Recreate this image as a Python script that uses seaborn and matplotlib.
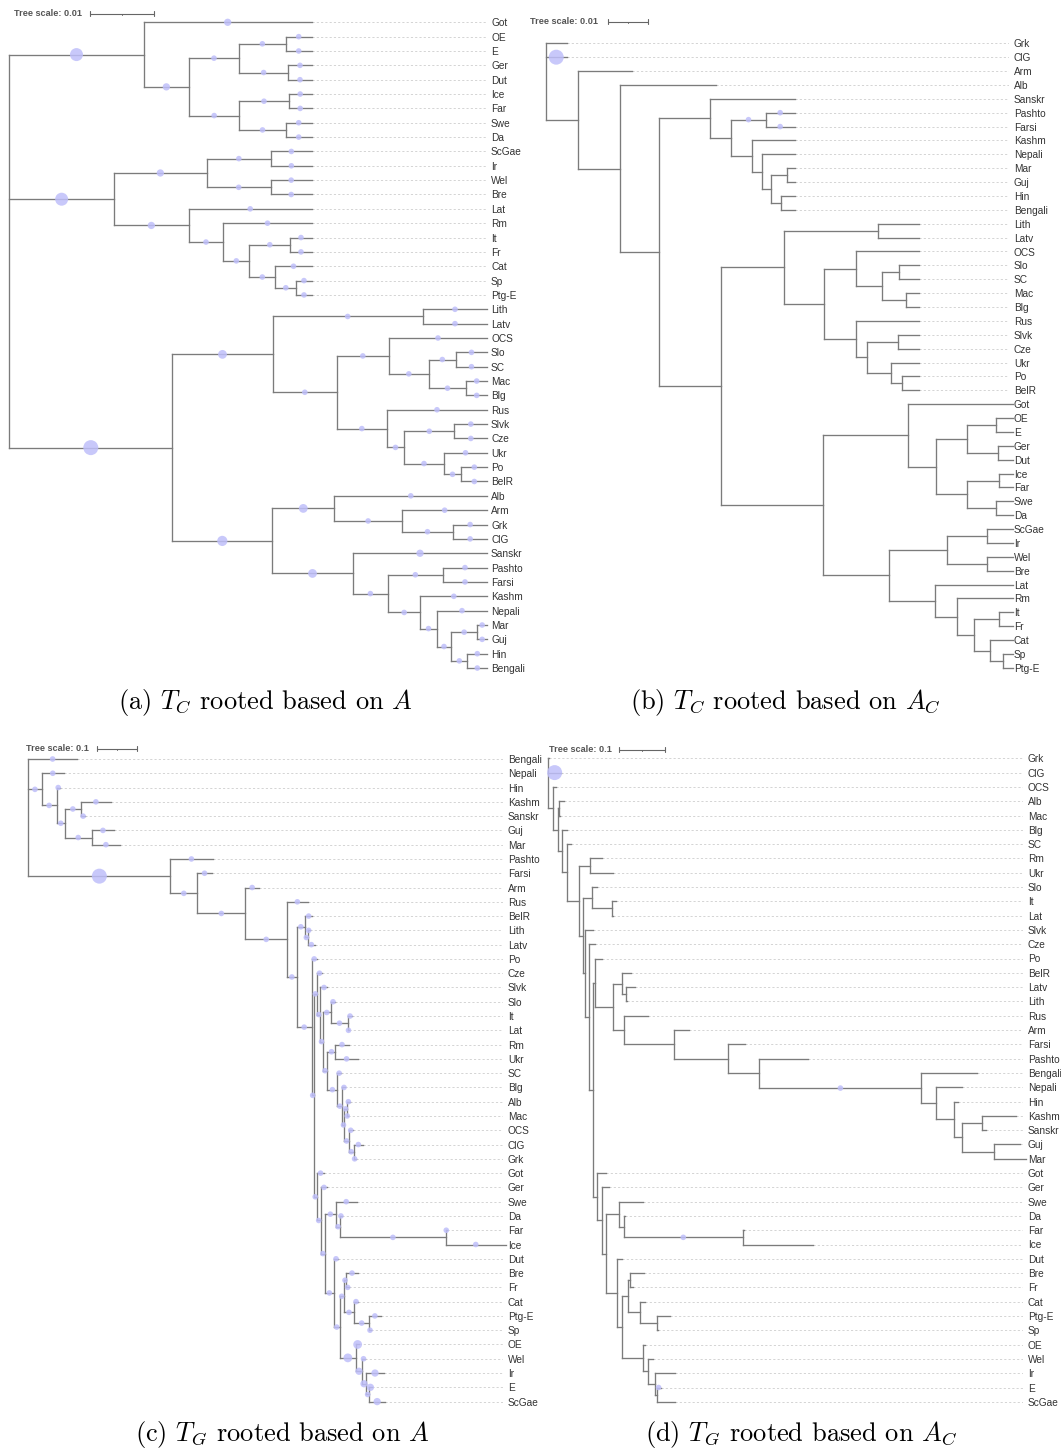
import matplotlib
matplotlib.use("Agg")
import matplotlib.pyplot as plt
from matplotlib.collections import LineCollection
import pandas as pd
import seaborn as sns

# ---------------------------------------------------------------------------
# Trees in a Newick-like notation.  The number after ':' is the distance of
# the node from the root (cumulative), and an optional [k] gives the weight
# class of the marker drawn on the branch leading to that node.
# ---------------------------------------------------------------------------
TREE_TC_A = """(
 (Got:0.04703[2],
  (((OE:0.04703,E:0.04703):0.04299,(Ger:0.04703,Dut:0.04703):0.04339):0.03572,
   ((Ice:0.04703,Far:0.04703):0.04345,(Swe:0.04703,Da:0.04703):0.04299):0.03577):0.02795[2]
 ):0.02090[5],
 (((ScGae:0.04703,Ir:0.04703):0.04070,(Wel:0.04703,Bre:0.04703):0.04065):0.03070[2],
  (Lat:0.04703,(Rm:0.04703,((It:0.04703,Fr:0.04703):0.04370,
   (Cat:0.04703,(Sp:0.04703,Ptg-E:0.04703):0.04463):0.04137):0.03733):0.03328):0.02790[2]
 ):0.01628[5],
 (((Lith:0.07434,Latv:0.07434):0.06429,
   ((OCS:0.07434,((Slo:0.07434,SC:0.07434):0.06942,(Mac:0.07434,Blg:0.07434):0.07103):0.06527):0.05900,
    (Rus:0.07434,((Slvk:0.07434,Cze:0.07434):0.06921,
     (Ukr:0.07434,(Po:0.07434,BelR:0.07434):0.07030):0.06756):0.06143):0.05869):0.05096
  ):0.04096[3],
  ((Alb:0.07434,(Arm:0.07434,(Grk:0.07434,ClG:0.07434):0.06900):0.06107):0.05054[3],
   (Sanskr:0.07434[2],((Pashto:0.07434,Farsi:0.07434):0.06740,
    (Kashm:0.07434,(Nepali:0.07434,((Mar:0.07434,Guj:0.07434):0.07274,
     (Hin:0.07434,Bengali:0.07434):0.07123):0.06874):0.06647):0.06392):0.05890):0.05341[3]
  ):0.04090[4]
 ):0.02535[6]
):0"""

TREE_TC_AC = """(
 Grk:0.00526,
 ClG:0.00526[6],
 (Arm:0.02121,
  (Alb:0.04200,
   ((Sanskr:0.06153,((Pashto:0.06153[1],Farsi:0.06153[1]):0.05430[1],
     (Kashm:0.06153,(Nepali:0.06153,((Mar:0.06153,Guj:0.06153):0.05965,
      (Hin:0.06153,Bengali:0.06153):0.05812):0.05575):0.05338):0.05084):0.04590):0.04047,
    (((Lith:0.09225,Latv:0.09225):0.08205,
      ((OCS:0.09225,((Slo:0.09225,SC:0.09225):0.08714,(Mac:0.09225,Blg:0.09225):0.08894):0.08306):0.07672,
       (Rus:0.09225,((Slvk:0.09225,Cze:0.09225):0.08699,
        (Ukr:0.09225,(Po:0.09225,BelR:0.09225):0.08807):0.08536):0.07926):0.07654
      ):0.06881
     ):0.05881,
     ((Got:0.11541,(((OE:0.11541,E:0.11541):0.11123,(Ger:0.11541,Dut:0.11541):0.11175):0.10402,
       ((Ice:0.11541,Far:0.11541):0.11183,(Swe:0.11541,Da:0.11541):0.11133):0.10412):0.09630):0.08936,
      (((ScGae:0.11541,Ir:0.11541):0.10904,(Wel:0.11541,Bre:0.11541):0.10904):0.09901,
       (Lat:0.11541,(Rm:0.11541,((It:0.11541,Fr:0.11541):0.11200,
        (Cat:0.11541,(Sp:0.11541,Ptg-E:0.11541):0.11294):0.10973):0.10573):0.10158):0.09622
      ):0.08469
     ):0.06857
    ):0.04336
   ):0.02793
  ):0.01832
 ):0.00790
):0"""

TREE_TG_A = """(
 Bengali:0.1204,
 (Nepali:0.0886,(Hin:0.0776,((Kashm:0.2050,Sanskr:0.1413):0.1308,
  (Guj:0.2134,Mar:0.2281):0.1575):0.0903):0.0706):0.0326,
 (Pashto:0.4580,
  (Farsi:0.4562,
   (Arm:0.5734,
    (Rus:0.6948,
     ((BelR:0.7062,(Lith:0.6993,Latv:0.7129):0.6948):0.6881,
      (Po:0.7172,
       ((Cze:0.7303,(Slvk:0.7440,((Slo:0.7627,(It:0.8050,Lat:0.7975):0.7950):0.7527,
         ((Rm:0.7963,Ukr:0.8189):0.7639,(SC:0.7776,(Blg:0.7888,((Alb:0.8000,Mac:0.7943):0.7918,
          (OCS:0.8067,(ClG:0.8323,Grk:0.8137):0.8092):0.7968):0.7863):0.7813):0.7684):0.7440
        ):0.7316):0.7266):0.7179,
        (Got:0.7361,(Ger:0.7435,((Swe:0.8167,(Da:0.7789,(Far:1.0413,Ice:1.1881):1.0376):0.7759):0.7644,
         (Dut:0.7709,(((Bre:0.8192,Fr:0.7975):0.7908,(Cat:0.8192,(Ptg-E:0.8764,Sp:0.8522):0.8473):0.8107):0.7843,
          (OE:0.8231[3],(Wel:0.8373,(Ir:0.8846[2],(E:0.8535[2],ScGae:0.8871[2]):0.8480):0.8398[2]):0.8299[2]):0.8149[3]
         ):0.7744):0.7595):0.7378):0.7271):0.7172
       ):0.7097
      ):0.7047
     ):0.6674
    ):0.6433
   ):0.5398
  ):0.4201
 ):0.3530[6]
):0"""

TREE_TG_AC = """(
 Grk:0.0026,
 ClG:0.0276[6],
 (OCS:0.0167,
  ((Alb:0.0341,Mac:0.0254):0.0233,
   (Blg:0.0400,
    (SC:0.0487,
     ((Rm:0.1178,Ukr:0.1417):0.0907,
      ((Slo:0.1054,(It:0.1472,Lat:0.1417):0.1380):0.0959,
       (Slvk:0.0980,
        (Cze:0.1017,
         ((Po:0.1163,
           ((BelR:0.1793,(Latv:0.1889,Lith:0.1707):0.1685):0.1598,
            (Rus:0.2178,(Arm:0.3065,(Farsi:0.4270,(Pashto:0.5650,
             (Bengali:0.9309,(Nepali:0.8983,(Hin:0.8896,((Kashm:1.0159,Sanskr:0.9513):0.9439,
              (Guj:1.0254,Mar:1.0385):0.9680):0.9004):0.8809):0.8439):0.8111[1]
            ):0.4589):0.3907):0.2724):0.1650
           ):0.1402
          ):0.1017,
          (Got:0.1257,(Ger:0.1309,((Swe:0.2057,(Da:0.1672,(Far:0.4263,Ice:0.5759):0.4235[1]):0.1635):0.1541,
           (Dut:0.1598,(((Bre:0.2091,Fr:0.1852):0.1780,(Cat:0.2107,(Ptg-E:0.2643,Sp:0.2376):0.2361):0.1991):0.1743,
            (OE:0.2107,(Wel:0.2274,(Ir:0.2761,(E:0.2441[1],ScGae:0.2761):0.2354):0.2311):0.2157):0.2057
           ):0.1613):0.1489):0.1265):0.1178):0.1054
         ):0.0980
        ):0.0893
       ):0.0800
      ):0.0750
     ):0.0667
    ):0.0400
   ):0.0291
  ):0.0204
 ):0.0109
):0"""

TREES = [TREE_TC_A, TREE_TC_AC, TREE_TG_A, TREE_TG_AC]
TREE_SCALE = [0.01, 0.01, 0.1, 0.1]
DEFAULT_MARK = [1, 0, 1, 0]          # marker weight used where none is given
CAPTIONS = [
    r"(a) $T_C$ rooted based on $A$",
    r"(b) $T_C$ rooted based on $A_C$",
    r"(c) $T_G$ rooted based on $A$",
    r"(d) $T_G$ rooted based on $A_C$",
]

# ---------------------------------------------------------------------------
# Page geometry (pixels): root x, pixels per unit distance, first leaf y,
# leaf spacing, label x, scale-legend position and caption centre.
# ---------------------------------------------------------------------------
W, H = 1061, 1451
GEOM = [
    dict(root=9.3, ppu=6430, y0=22.3, dy=14.35, label=491, sx=14, sy=13.7, bx=90, cap=(265, 703)),
    dict(root=545.6, ppu=4050, y0=43.3, dy=13.88, label=1014, sx=530, sy=21.7, bx=607.5, cap=(785, 703)),
    dict(root=28.4, ppu=402, y0=759.0, dy=14.28, label=508, sx=26, sy=748.7, bx=96.9, cap=(282, 1434)),
    dict(root=548.3, ppu=460, y0=758.3, dy=14.30, label=1028, sx=549.3, sy=749.7, bx=619.3, cap=(801, 1434)),
]

LINE_COLOR = "#7b7b7b"
GUIDE_COLOR = "#d4d4d4"
MARK_COLOR = (0.75, 0.75, 0.98)
MARK_DIAM_PX = {1: 5.6, 2: 7.3, 3: 8.8, 4: 10.2, 5: 13.0, 6: 15.0}
MARK_AREA = {k: (d * 0.72) ** 2 for k, d in MARK_DIAM_PX.items()}


def parse_tree(text):
    s = "".join(text.split())
    pos = 0

    def node():
        nonlocal pos
        children = []
        if s[pos] == "(":
            pos += 1
            children.append(node())
            while s[pos] == ",":
                pos += 1
                children.append(node())
            pos += 1  # closing ')'
        start = pos
        while pos < len(s) and s[pos] not in ":,()[":
            pos += 1
        name = s[start:pos]
        depth = 0.0
        if pos < len(s) and s[pos] == ":":
            pos += 1
            start = pos
            while pos < len(s) and s[pos] not in ",()[":
                pos += 1
            depth = float(s[start:pos])
        weight = None
        if pos < len(s) and s[pos] == "[":
            end = s.index("]", pos)
            weight = int(s[pos + 1:end])
            pos = end + 1
        return {"name": name, "depth": depth, "weight": weight, "children": children}

    return node()


def layout(root, default_weight):
    leaves, hsegs, vsegs, marks = [], [], [], []

    def walk(n, parent_depth):
        if n["children"]:
            ys = [walk(c, n["depth"]) for c in n["children"]]
            y = (ys[0] + ys[-1]) / 2
            vsegs.append([(n["depth"], ys[0]), (n["depth"], ys[-1])])
        else:
            y = len(leaves)
            leaves.append((n["name"], n["depth"]))
        if parent_depth is not None:
            hsegs.append([(parent_depth, y), (n["depth"], y)])
            w = n["weight"] if n["weight"] is not None else default_weight
            if w:
                marks.append({"x": (parent_depth + n["depth"]) / 2, "y": y, "w": w})
        return y

    walk(root, None)
    return leaves, hsegs, vsegs, pd.DataFrame(marks, columns=["x", "y", "w"])


sns.set_theme(style="white")
plt.rcParams["font.family"] = ["Liberation Sans", "DejaVu Sans"]
plt.rcParams["mathtext.fontset"] = "cm"

fig = plt.figure(figsize=(W / 100, H / 100), dpi=100)

for tree_text, scale, default_w, caption, g in zip(TREES, TREE_SCALE, DEFAULT_MARK, CAPTIONS, GEOM):
    root = parse_tree(tree_text)
    leaves, hsegs, vsegs, marks = layout(root, default_w)
    n = len(leaves)

    left_px = g["root"] - 8
    right_px = g["label"] - 5
    top_px = g["y0"] - 12
    bottom_px = g["y0"] + (n - 1) * g["dy"] + 12
    ax = fig.add_axes([left_px / W, 1 - bottom_px / H,
                       (right_px - left_px) / W, (bottom_px - top_px) / H])

    def to_x(px):
        return (px - g["root"]) / g["ppu"]

    def to_y(py):
        return (py - g["y0"]) / g["dy"]

    xmax = to_x(right_px)

    # dashed guides from each tip to its label
    guides = [[(d, i), (xmax, i)] for i, (_, d) in enumerate(leaves) if (xmax - d) * g["ppu"] > 3]
    ax.add_collection(LineCollection(guides, colors=GUIDE_COLOR, linewidths=0.7,
                                     linestyles=(0, (2.2, 2.2)), zorder=1))
    # branches
    ax.add_collection(LineCollection(hsegs + vsegs, colors=LINE_COLOR, linewidths=0.95,
                                     capstyle="projecting", zorder=2, clip_on=False))
    # branch markers
    if len(marks):
        sns.scatterplot(data=marks, x="x", y="y", size="w", sizes=MARK_AREA, legend=False,
                        color=MARK_COLOR, alpha=0.85, edgecolor="none", linewidth=0,
                        ax=ax, zorder=3, clip_on=False)

    ax.set_xlim(to_x(left_px), xmax)
    ax.set_ylim(to_y(bottom_px), to_y(top_px))
    ax.set_xticks([])
    ax.set_yticks(range(n))
    ax.set_yticklabels([name for name, _ in leaves])
    ax.yaxis.tick_right()
    ax.tick_params(axis="y", length=0, pad=3.6, labelsize=7.3, labelcolor="#333333")
    ax.set_xlabel("")
    ax.set_ylabel("")
    for sp in ax.spines.values():
        sp.set_visible(False)
    ax.set_facecolor("none")

    # tree-scale legend
    ys = to_y(g["sy"])
    ax.text(to_x(g["sx"]), ys, f"Tree scale: {scale:g}", ha="left", va="center",
            fontsize=6.6, fontweight="bold", color="#555555", clip_on=False)
    x0 = to_x(g["bx"])
    x1 = x0 + scale
    tick = 2.6 / g["dy"]
    ax.plot([x0, x1], [ys, ys], color="#666666", lw=0.8, clip_on=False)
    ax.plot([x0, x0], [ys - tick, ys + tick], color="#666666", lw=0.8, clip_on=False)
    ax.plot([x1, x1], [ys - tick, ys + tick], color="#666666", lw=0.8, clip_on=False)
    ax.plot([(x0 + x1) / 2] * 2, [ys, ys + tick * 0.6], color="#666666", lw=0.7, clip_on=False)

    cx, cy = g["cap"]
    fig.text(cx / W, 1 - cy / H, caption, ha="center", va="center",
             fontsize=19, family="cmr10", color="black")

fig.savefig("out.png", dpi=100)
